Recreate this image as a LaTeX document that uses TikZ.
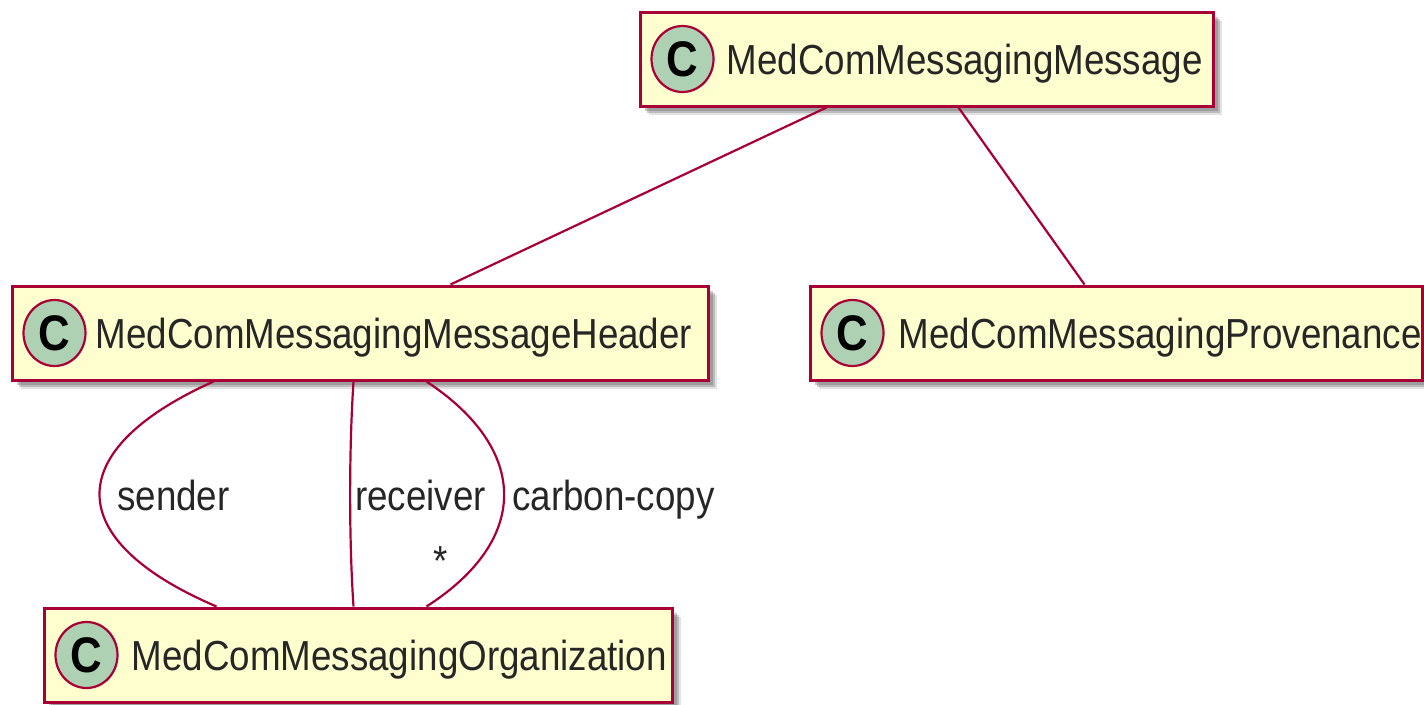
\documentclass[tikz,border=0pt]{standalone}
\usepackage{fontspec}
\usetikzlibrary{shapes.geometric,shadows}
\newfontfamily\umlfont[FakeStretch=0.875]{Liberation Sans}
\definecolor{umlborder}{HTML}{A80036}
\definecolor{umlfill}{HTML}{FEFECE}
\definecolor{umlcirc}{HTML}{ADD1B2}
\tikzset{
  classbox/.style={draw=umlborder, line width=3pt, fill=umlfill, minimum height=94pt, inner sep=0pt,
    drop shadow={shadow xshift=9pt, shadow yshift=-9pt, fill=black!45, opacity=0.25},
    drop shadow={shadow xshift=7pt, shadow yshift=-7pt, fill=black!55, opacity=0.35},
    drop shadow={shadow xshift=5pt, shadow yshift=-5pt, fill=black!60, opacity=0.35}},
  classcirc/.style={ellipse, draw=umlborder, line width=2.2pt, fill=umlcirc, minimum width=62pt, minimum height=66pt, inner sep=0pt,
    font=\umlfont\bfseries\fontsize{50}{54}\selectfont},
  classname/.style={anchor=base west, inner sep=0pt, font=\umlfont\fontsize{42}{50}\selectfont, text=black!85},
  edgelabel/.style={inner sep=0pt, font=\umlfont\fontsize{42}{50}\selectfont, text=black!85},
  assoc/.style={draw=umlborder, line width=2.2pt}
}
\begin{document}
\begin{tikzpicture}[x=1pt,y=-1pt]
\useasboundingbox (0,0) rectangle (1424,704);
% connectors first, boxes drawn over them
\coordinate (msgsw) at (640,106);
% boxes
\node[classbox, minimum width=573pt] (msg) at (926.5,59) {};
\node[classbox, minimum width=696pt] (hdr) at (360,333) {};
\node[classbox, minimum width=612pt] (prov) at (1116,333) {};
\node[classbox, minimum width=628pt] (org) at (358,655) {};
% circles
\node[classcirc] (msgc) at ([xshift=44pt]msg.west) {C};
\node[classcirc] (hdrc) at ([xshift=44pt]hdr.west) {C};
\node[classcirc] (provc) at ([xshift=44pt]prov.west) {C};
\node[classcirc] (orgc) at ([xshift=44pt]org.west) {C};
% names
\node[classname] (msgt) at ([xshift=88pt,yshift=-15pt]msg.west) {MedComMessagingMessage};
\node[classname] (hdrt) at ([xshift=85pt,yshift=-15pt]hdr.west) {MedComMessagingMessageHeader};
\node[classname] (provt) at ([xshift=90pt,yshift=-15pt]prov.west) {MedComMessagingProvenance};
\node[classname] (orgt) at ([xshift=89pt,yshift=-15pt]org.west) {MedComMessagingOrganization};
% connectors
\draw[assoc] ([xshift=188pt]msg.south west) -- ([xshift=440pt]hdr.north west);
\draw[assoc] ([xshift=320pt]msg.south west) -- ([xshift=276pt]prov.north west);
\draw[assoc] ([xshift=203pt]hdr.south west) .. controls (61,450) and (61,540) .. ([xshift=174pt]org.north west);
\draw[assoc] ([xshift=343pt]hdr.south west) .. controls (349,450) and (349,540) .. ([xshift=311pt]org.north west);
\draw[assoc] ([xshift=416pt]hdr.south west) .. controls (530,450) and (530,540) .. ([xshift=384pt]org.north west);
% labels
\node[edgelabel, anchor=base west] (lsend) at (117,510) {sender};
\node[edgelabel, anchor=base west] (lrecv) at (355,510) {receiver};
\node[edgelabel, anchor=base west] (lcc) at (512,510) {carbon-copy};
\node[edgelabel, anchor=base] (lmult) at (441,575) {*};
\end{tikzpicture}
\end{document}
